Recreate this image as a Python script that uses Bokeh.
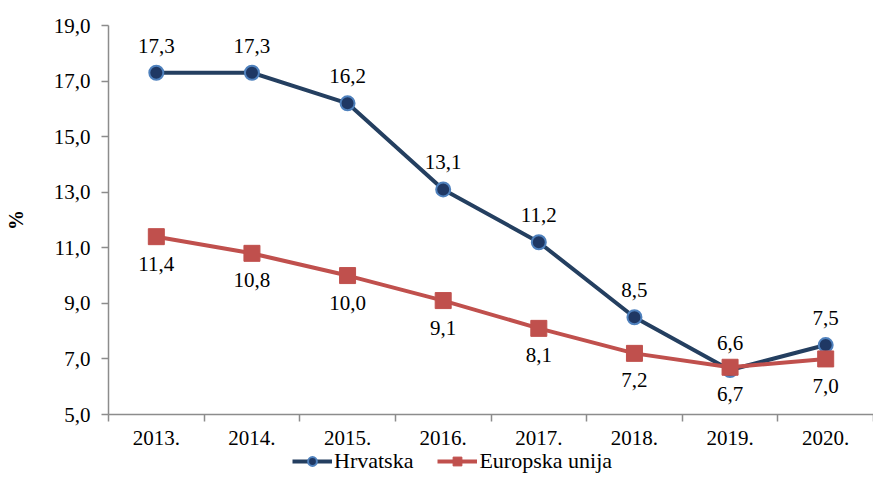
from bokeh.plotting import figure
from bokeh.layouts import column
from bokeh.models import ColumnDataSource, FixedTicker, Legend, LegendItem
from bokeh.core.properties import value
from bokeh.embed import file_html
from bokeh.resources import INLINE

years = ["2013.", "2014.", "2015.", "2016.", "2017.", "2018.", "2019.", "2020."]
hrvatska = [17.3, 17.3, 16.2, 13.1, 11.2, 8.5, 6.6, 7.5]
eu = [11.4, 10.8, 10.0, 9.1, 8.1, 7.2, 6.7, 7.0]
y_ticks = [5, 7, 9, 11, 13, 15, 17, 19]

FONT = "Times New Roman"
FS = "21px"
W = 873
H_MAIN = 450
H_LEG = 24

def fmt(v):
    return f"{v:.1f}".replace(".", ",")

xs = [i + 0.5 for i in range(len(years))]
src_h = ColumnDataSource(dict(x=xs, y=hrvatska, lab=[fmt(v) for v in hrvatska]))
src_e = ColumnDataSource(dict(x=xs, y=eu, lab=[fmt(v) for v in eu]))

p = figure(width=W, height=H_MAIN, output_backend="svg", toolbar_location=None,
           x_range=(0, len(years)), y_range=(y_ticks[0], y_ticks[-1]),
           min_border_left=108, min_border_top=25, min_border_bottom=36, min_border_right=0)
p.outline_line_color = None
p.xgrid.visible = False
p.ygrid.visible = False

AXC = "#8c8c8c"
# y axis
p.yaxis.ticker = FixedTicker(ticks=y_ticks)
p.yaxis.major_label_overrides = {t: fmt(t) for t in y_ticks}
p.yaxis.axis_line_color = AXC
p.yaxis.axis_line_width = 1.5
p.yaxis.major_tick_line_color = AXC
p.yaxis.major_tick_line_width = 1.5
p.yaxis.major_tick_in = 0
p.yaxis.major_tick_out = 7
p.yaxis.minor_tick_line_color = None
p.yaxis.major_label_text_font = FONT
p.yaxis.major_label_text_font_size = FS
p.yaxis.major_label_text_color = "black"
p.yaxis.major_label_standoff = 11
p.yaxis.axis_label = "%"
p.yaxis.axis_label_text_font = FONT
p.yaxis.axis_label_text_font_style = "bold"
p.yaxis.axis_label_text_font_size = "20px"
p.yaxis.axis_label_text_color = "black"
p.yaxis.axis_label_standoff = 24

# x axis
p.xaxis.ticker = FixedTicker(ticks=xs, minor_ticks=list(range(len(years) + 1)))
p.xaxis.major_label_overrides = {x: y for x, y in zip(xs, years)}
p.xaxis.axis_line_color = AXC
p.xaxis.axis_line_width = 1.5
p.xaxis.major_tick_line_color = None
p.xaxis.minor_tick_line_color = AXC
p.xaxis.minor_tick_line_width = 1.5
p.xaxis.minor_tick_in = 0
p.xaxis.minor_tick_out = 7
p.xaxis.major_label_text_font = FONT
p.xaxis.major_label_text_font_size = FS
p.xaxis.major_label_text_color = "black"
p.xaxis.major_label_standoff = 9

H_STYLE = dict(line_color="#243F60", line_width=4)
H_MARK = dict(marker="circle", size=14, fill_color="#1F3864", line_color="#4F81BD", line_width=2)
E_STYLE = dict(line_color="#C0504D", line_width=4)
E_MARK = dict(marker="square", size=16, fill_color="#C0504D", line_color="#C0504D", line_width=1)

# series
p.line("x", "y", source=src_h, **H_STYLE)
p.scatter("x", "y", source=src_h, **H_MARK)
p.line("x", "y", source=src_e, **E_STYLE)
p.scatter("x", "y", source=src_e, **E_MARK)

p.text("x", "y", text="lab", source=src_h, y_offset=-27, text_align="center",
       text_baseline="middle", text_font=value(FONT), text_font_size=FS, text_color="black")
p.text("x", "y", text="lab", source=src_e, y_offset=27, text_align="center",
       text_baseline="middle", text_font=value(FONT), text_font_size=FS, text_color="black")

# legend strip (same series drawn out of its visible range; only the legend shows)
lg = figure(width=W, height=H_LEG, output_backend="svg", toolbar_location=None,
            x_range=(0, 1), y_range=(0, 1), min_border=0)
lg.axis.visible = False
lg.grid.visible = False
lg.outline_line_color = None
lh = lg.line("x", "y", source=src_h, **H_STYLE)
ls = lg.scatter("x", "y", source=src_h, **H_MARK)
le = lg.line("x", "y", source=src_e, **E_STYLE)
les = lg.scatter("x", "y", source=src_e, **E_MARK)

legend = Legend(items=[LegendItem(label="Hrvatska", renderers=[lh, ls]),
                       LegendItem(label="Europska unija", renderers=[le, les])],
                orientation="horizontal", location=(184, 0),
                label_text_font=FONT, label_text_font_size="22px", label_text_color="black",
                label_height=22, glyph_width=40, glyph_height=22, spacing=24, label_standoff=2,
                background_fill_alpha=0, border_line_color=None, padding=0, margin=0)
lg.add_layout(legend, "center")

layout = column(p, lg, spacing=0)
open("out.html", "w").write(file_html(layout, INLINE))
